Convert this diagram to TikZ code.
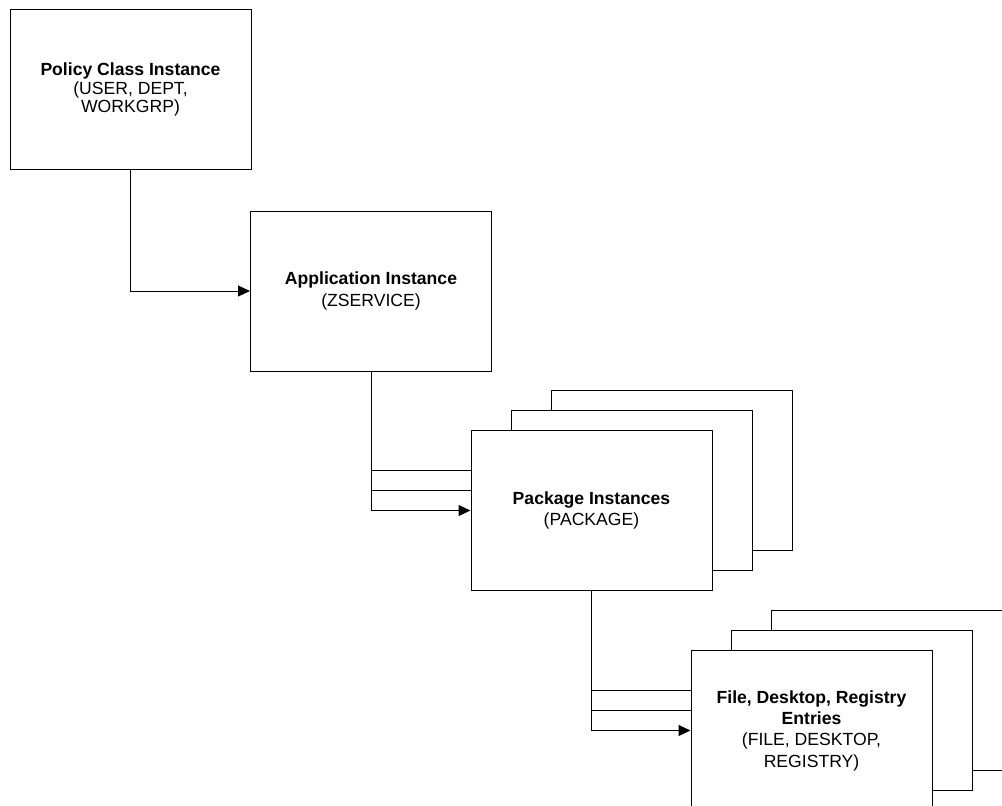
\documentclass[tikz,border=0pt]{standalone}
\usepackage{fontspec}
\setmainfont{Liberation Sans}
\usetikzlibrary{arrows.meta}
\tikzset{
  box/.style={draw=black, line width=1pt, fill=white, minimum width=241pt, minimum height=160pt, inner sep=0pt, align=center, font=\fontsize{17.6}{21.3}\selectfont},
  conn/.style={draw=black, line width=1pt},
  arr/.style={conn, -{Triangle[length=12pt,width=11pt]}}
}
\begin{document}
\begin{tikzpicture}[x=1pt,y=-1pt]
\useasboundingbox (0,0) rectangle (1002,806);
\clip (0,0) rectangle (1002,806);
% Policy
\node[box, font=\fontsize{17.6}{18.3}\selectfont] (pol) at (130.5,89.5) {\textbf{Policy Class Instance}\\(USER, DEPT,\\WORKGRP)};
% Application
\node[box] (app) at (371,291) {\textbf{Application Instance}\\(ZSERVICE)};
% Package stack
\node[box] (pkgC) at (671.5,470.5) {};
\node[box] (pkgB) at (631.5,490.5) {};
\node[box] (pkgA) at (591.5,510.5) {\textbf{Package Instances}\\(PACKAGE)};
% File stack
\node[box] (fileC) at (891.5,690.5) {};
\node[box] (fileB) at (851.5,710.5) {};
\node[box] (fileA) at (811.5,730.5) {\textbf{File, Desktop, Registry}\\\textbf{Entries}\\(FILE, DESKTOP,\\REGISTRY)};
% connectors
\draw[arr] (pol.south) |- (app.west);
\draw[conn] (app.south) |- (pkgC.west -| pkgA.west);
\draw[conn] (app.south) |- (pkgB.west -| pkgA.west);
\draw[arr] (app.south) |- (pkgA.west);
\draw[conn] (pkgA.south) |- (fileC.west -| fileA.west);
\draw[conn] (pkgA.south) |- (fileB.west -| fileA.west);
\draw[arr] (pkgA.south) |- (fileA.west);
\end{tikzpicture}
\end{document}
